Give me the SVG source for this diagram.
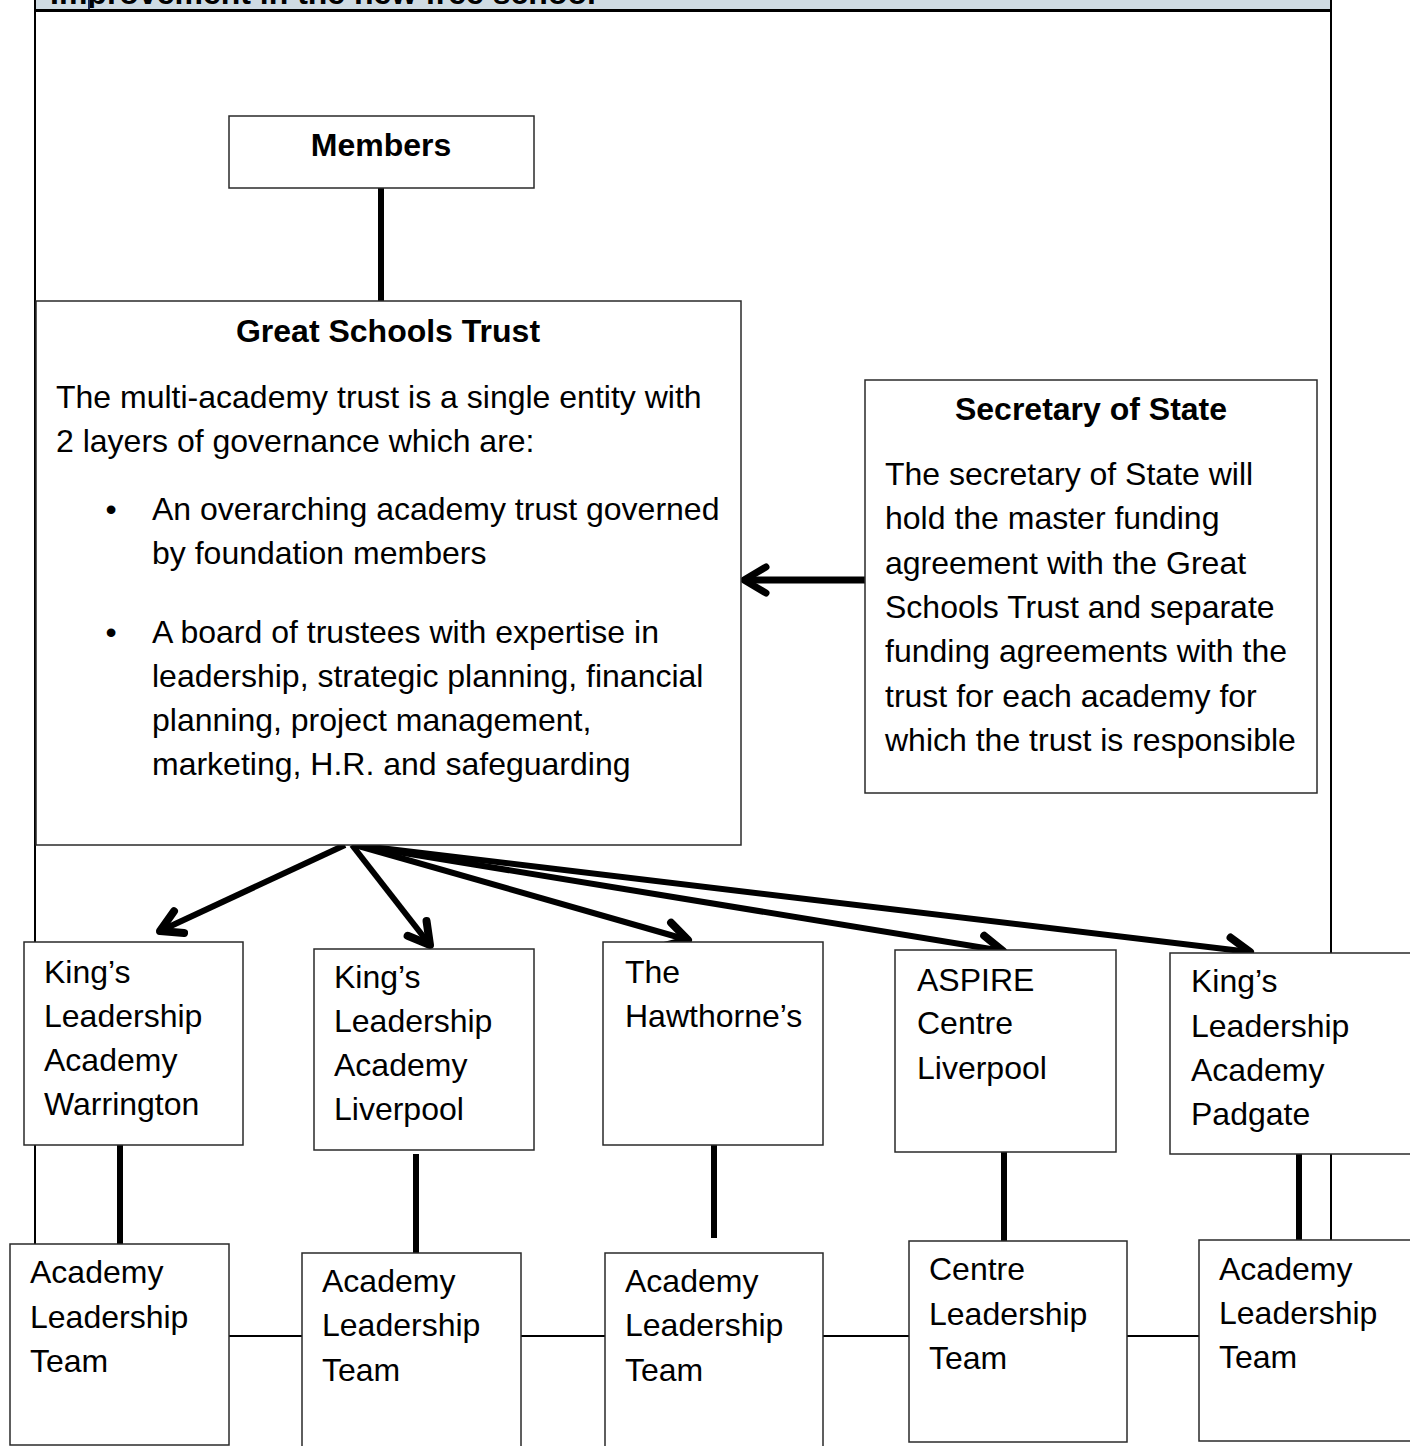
<svg xmlns="http://www.w3.org/2000/svg" width="1410" height="1446" viewBox="0 0 1410 1446">
<style>
.box{fill:#fff;stroke:#2a2a2a;stroke-width:1.5}
.t{font-family:"Liberation Sans",Arial,sans-serif;font-size:32px;fill:#000}
.b{font-weight:bold}
.thick{stroke:#000;stroke-width:6;fill:none}
.thin{stroke:#000;stroke-width:2;fill:none}
.arr{stroke:#000;stroke-width:6;fill:none;marker-end:url(#ah2)}
</style>
<defs>
<marker id="ah" markerUnits="userSpaceOnUse" markerWidth="50" markerHeight="50" viewBox="-35 -25 50 50" refX="0" refY="0" orient="auto">
<path d="M-22,-13 L0,0 L-22,13" fill="none" stroke="#000" stroke-width="7" stroke-linecap="round" stroke-linejoin="round"/>
</marker>
<marker id="ah2" markerUnits="userSpaceOnUse" markerWidth="50" markerHeight="50" viewBox="-35 -25 50 50" refX="0" refY="0" orient="auto">
<path d="M-21,-12 L0,0 L-21,12" fill="none" stroke="#000" stroke-width="8" stroke-linecap="round" stroke-linejoin="round"/>
</marker>
<clipPath id="hc"><rect x="34" y="0" width="1297" height="8"/></clipPath>
</defs>
<rect width="1410" height="1446" fill="#fff"/>
<g id="frame">
<rect x="35" y="0" width="1296" height="10" fill="#cfdbe3"/>
<text class="t b" x="50" y="4" clip-path="url(#hc)">Improvement in the new free school</text>
<line x1="89" y1="0" x2="89" y2="10" stroke="#1a2a55" stroke-width="2"/>
<line x1="34" y1="10.5" x2="1332" y2="10.5" stroke="#000" stroke-width="3"/>
<line x1="35" y1="0" x2="35" y2="1244" class="thin"/>
<line x1="1331" y1="0" x2="1331" y2="1240" class="thin"/>
</g>
<g id="connectors">
<line x1="381" y1="188" x2="381" y2="301" class="thick"/>
<line x1="865" y1="580" x2="744" y2="580" stroke="#000" stroke-width="7" marker-end="url(#ah)"/>
<line x1="345" y1="845" x2="160" y2="931" class="arr"/>
<line x1="352" y1="845" x2="430" y2="945" class="arr"/>
<line x1="355" y1="845" x2="688" y2="940" class="arr"/>
<line x1="355" y1="845" x2="1003" y2="951" class="arr"/>
<line x1="355" y1="845" x2="1250" y2="952" class="arr"/>
<line x1="120" y1="1145" x2="120" y2="1244" class="thick"/>
<line x1="416" y1="1154" x2="416" y2="1253" class="thick"/>
<line x1="714" y1="1140" x2="714" y2="1238" class="thick"/>
<line x1="1004" y1="1145" x2="1004" y2="1242" class="thick"/>
<line x1="1299" y1="1146" x2="1299" y2="1244" class="thick"/>
<line x1="229" y1="1336" x2="302" y2="1336" class="thin"/>
<line x1="521" y1="1336" x2="605" y2="1336" class="thin"/>
<line x1="823" y1="1336" x2="909" y2="1336" class="thin"/>
<line x1="1127" y1="1336" x2="1199" y2="1336" class="thin"/>
</g>
<g id="members">
<rect class="box" x="229" y="116" width="305" height="72"/>
<text class="t b" x="381" y="156" text-anchor="middle">Members</text>
</g>
<g id="gst">
<rect class="box" x="36" y="301" width="705" height="544"/>
<text class="t b" x="388" y="342" text-anchor="middle">Great Schools Trust</text>
<text class="t" x="56" y="408">The multi-academy trust is a single entity with</text>
<text class="t" x="56" y="452">2 layers of governance which are:</text>
<text class="t" x="111" y="520" text-anchor="middle">•</text>
<text class="t" x="152" y="520">An overarching academy trust governed</text>
<text class="t" x="152" y="564">by foundation members</text>
<text class="t" x="111" y="643" text-anchor="middle">•</text>
<text class="t" x="152" y="643">A board of trustees with expertise in</text>
<text class="t" x="152" y="687">leadership, strategic planning, financial</text>
<text class="t" x="152" y="731">planning, project management,</text>
<text class="t" x="152" y="775">marketing, H.R. and safeguarding</text>
</g>
<g id="sos">
<rect class="box" x="865" y="380" width="452" height="413"/>
<text class="t b" x="1091" y="420" text-anchor="middle">Secretary of State</text>
<text class="t" x="885" y="485">The secretary of State will</text>
<text class="t" x="885" y="529">hold the master funding</text>
<text class="t" x="885" y="574">agreement with the Great</text>
<text class="t" x="885" y="618">Schools Trust and separate</text>
<text class="t" x="885" y="662">funding agreements with the</text>
<text class="t" x="885" y="707">trust for each academy for</text>
<text class="t" x="885" y="751">which the trust is responsible</text>
</g>
<g id="kla-warrington">
<rect class="box" x="24" y="942" width="219" height="203"/>
<text class="t" x="44" y="983">King’s</text>
<text class="t" x="44" y="1027">Leadership</text>
<text class="t" x="44" y="1071">Academy</text>
<text class="t" x="44" y="1115">Warrington</text>
</g>
<g id="kla-liverpool">
<rect class="box" x="314" y="949" width="220" height="201"/>
<text class="t" x="334" y="988">King’s</text>
<text class="t" x="334" y="1032">Leadership</text>
<text class="t" x="334" y="1076">Academy</text>
<text class="t" x="334" y="1120">Liverpool</text>
</g>
<g id="hawthornes">
<rect class="box" x="603" y="942" width="220" height="203"/>
<text class="t" x="625" y="983">The</text>
<text class="t" x="625" y="1027">Hawthorne’s</text>
</g>
<g id="aspire">
<rect class="box" x="895" y="950" width="221" height="202"/>
<text class="t" x="917" y="991">ASPIRE</text>
<text class="t" x="917" y="1034">Centre</text>
<text class="t" x="917" y="1079">Liverpool</text>
</g>
<g id="kla-padgate">
<rect class="box" x="1170" y="953" width="250" height="201"/>
<text class="t" x="1191" y="992">King’s</text>
<text class="t" x="1191" y="1037">Leadership</text>
<text class="t" x="1191" y="1081">Academy</text>
<text class="t" x="1191" y="1125">Padgate</text>
</g>
<g id="alt-1">
<rect class="box" x="10" y="1244" width="219" height="201"/>
<text class="t" x="30" y="1283">Academy</text>
<text class="t" x="30" y="1328">Leadership</text>
<text class="t" x="30" y="1372">Team</text>
</g>
<g id="alt-2">
<rect class="box" x="302" y="1253" width="219" height="200"/>
<text class="t" x="322" y="1292">Academy</text>
<text class="t" x="322" y="1336">Leadership</text>
<text class="t" x="322" y="1381">Team</text>
</g>
<g id="alt-3">
<rect class="box" x="605" y="1253" width="218" height="200"/>
<text class="t" x="625" y="1292">Academy</text>
<text class="t" x="625" y="1336">Leadership</text>
<text class="t" x="625" y="1381">Team</text>
</g>
<g id="clt">
<rect class="box" x="909" y="1241" width="218" height="201"/>
<text class="t" x="929" y="1280">Centre</text>
<text class="t" x="929" y="1325">Leadership</text>
<text class="t" x="929" y="1369">Team</text>
</g>
<g id="alt-5">
<rect class="box" x="1199" y="1240" width="221" height="201"/>
<text class="t" x="1219" y="1280">Academy</text>
<text class="t" x="1219" y="1324">Leadership</text>
<text class="t" x="1219" y="1368">Team</text>
</g>
</svg>
